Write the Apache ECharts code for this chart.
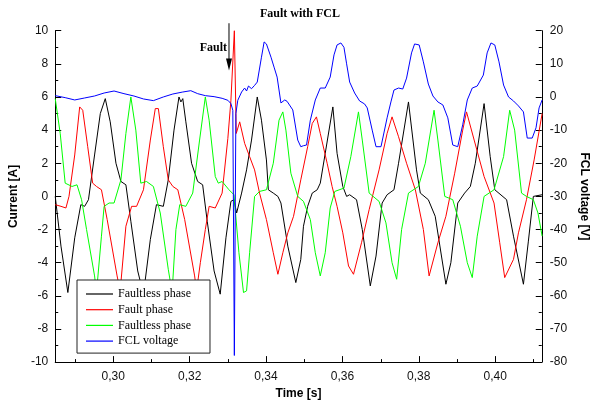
<!DOCTYPE html>
<html><head><meta charset="utf-8">
<script src="https://cdn.jsdelivr.net/npm/echarts@6/dist/echarts.min.js"></script>
<style>html,body{margin:0;padding:0;background:#fff}#c{width:598px;height:405px}</style>
</head><body><div id="c"></div>
<script>
// ---- data ----
const titleText = 'Fault with FCL';
const seriesNames = ['Faultless phase', 'Fault phase', 'Faultless phase ', 'FCL voltage'];
const xMajorTicks = [0.30, 0.32, 0.34, 0.36, 0.38, 0.40];
const xMinorTicks = [0.29, 0.31, 0.33, 0.35, 0.37, 0.39, 0.41];

const blackT = [0.2848,0.2863,0.2881,0.2899,0.2915,0.2925,0.2935,0.2951,0.2966,0.2979,0.2992,0.3007,0.3020,0.3033,0.3046,0.3064,0.3079,0.3097,0.3113,0.3131,0.3144,0.3159,0.3172,0.3177,0.3182,0.3190,0.3205,0.3221,0.3234,0.3246,0.3264,0.3280,0.3295,0.3308,0.3316,0.3323,0.3336,0.3349,0.3362,0.3377,0.3388,0.3401,0.3406,0.3419,0.3431,0.3439,0.3457,0.3478,0.3491,0.3498,0.3509,0.3521,0.3534,0.3542,0.3555,0.3575,0.3586,0.3601,0.3611,0.3619,0.3637,0.3652,0.3673,0.3688,0.3704,0.3717,0.3735,0.3747,0.3773,0.3794,0.3804,0.3825,0.3843,0.3871,0.3884,0.3902,0.3920,0.3935,0.3948,0.3971,0.3987,0.3999,0.4030,0.4048,0.4074,0.4087,0.4100,0.4123];
const blackI = [0.0,-3.0,-5.8,-2.5,-0.5,-0.6,-0.2,2.5,5.0,5.9,4.5,2.0,0.9,0.7,-1.5,-4.5,-5.9,-2.6,-0.5,-0.6,1.0,4.0,6.0,5.7,5.9,4.5,2.0,0.9,0.7,-1.5,-4.5,-5.9,-2.5,-0.3,-0.2,-1.0,0.2,1.6,3.4,6.0,4.6,2.2,0.4,0.2,0.0,-0.4,-3.0,-5.2,-3.8,-1.8,-0.6,0.2,0.4,0.8,2.6,5.4,2.6,0.6,0.0,0.1,-0.2,-2.0,-5.4,-3.6,-0.4,0.1,0.4,2.0,5.7,1.6,0.2,-0.2,-1.2,-5.3,-4.0,-0.4,0.2,0.6,2.0,5.6,2.4,0.4,-0.2,-2.4,-5.3,-2.7,0.0,0.1];

const redT = [0.2848,0.2863,0.2876,0.2884,0.2899,0.2912,0.2920,0.2933,0.2946,0.2956,0.2969,0.2984,0.3010,0.3018,0.3033,0.3048,0.3061,0.3079,0.3097,0.3110,0.3118,0.3131,0.3144,0.3156,0.3169,0.3187,0.3213,0.3218,0.3228,0.3241,0.3251,0.3267,0.3285,0.3300,0.3308,0.3317,0.3322,0.3331,0.3344,0.3357,0.3370,0.3383,0.3401,0.3419,0.3431,0.3444,0.3457,0.3472,0.3491,0.3509,0.3521,0.3532,0.3542,0.3560,0.3573,0.3586,0.3601,0.3616,0.3629,0.3650,0.3670,0.3696,0.3717,0.3730,0.3747,0.3768,0.3791,0.3812,0.3827,0.3850,0.3871,0.3894,0.3915,0.3925,0.3945,0.3971,0.3997,0.4012,0.4025,0.4048,0.4061,0.4082,0.4102,0.4123];
const redI = [-0.5,-0.6,-0.7,0.0,2.5,5.4,5.2,3.0,0.8,0.6,0.4,-1.4,-4.8,-5.7,-1.8,-0.6,-0.6,0.4,3.4,5.3,5.3,3.0,1.0,0.6,0.4,-1.4,-4.8,-5.7,-4.0,-2.0,-0.6,-0.7,0.2,3.5,5.8,10.0,3.8,4.5,3.2,2.4,1.6,0.2,-1.4,-3.4,-4.7,-3.4,-2.2,-1.2,1.0,3.0,4.4,4.8,3.8,2.0,0.6,-0.6,-2.2,-4.2,-4.7,-2.8,-0.8,1.6,3.8,4.8,3.6,2.0,0.4,-2.0,-4.8,-2.8,-1.2,1.4,4.0,5.1,3.4,1.2,-0.4,-2.8,-4.9,-3.8,-2.2,-0.2,2.2,5.0];

const greenT = [0.2848,0.2861,0.2874,0.2892,0.2905,0.2917,0.2930,0.2951,0.2956,0.2969,0.2976,0.2989,0.3002,0.3020,0.3033,0.3046,0.3059,0.3072,0.3087,0.3105,0.3123,0.3144,0.3154,0.3164,0.3174,0.3190,0.3208,0.3226,0.3241,0.3251,0.3267,0.3275,0.3285,0.3290,0.3303,0.3316,0.3329,0.3341,0.3349,0.3357,0.3370,0.3383,0.3401,0.3419,0.3434,0.3444,0.3452,0.3465,0.3483,0.3498,0.3516,0.3529,0.3542,0.3555,0.3568,0.3580,0.3604,0.3622,0.3642,0.3652,0.3670,0.3696,0.3714,0.3730,0.3742,0.3755,0.3773,0.3799,0.3817,0.3840,0.3850,0.3868,0.3889,0.3909,0.3927,0.3940,0.3953,0.3971,0.3997,0.4022,0.4038,0.4051,0.4069,0.4082,0.4100,0.4112,0.4123];
const greenI = [5.9,3.8,0.8,0.6,0.7,-0.2,-2.0,-4.8,-5.8,-2.4,-0.6,-0.4,-0.4,1.0,3.8,6.0,4.0,0.8,0.9,0.6,-1.0,-4.4,-5.8,-2.0,-0.5,-0.6,0.2,3.4,6.0,4.6,1.2,0.8,0.9,0.8,0.4,0.1,-3.4,-5.8,-5.7,-3.4,0.0,0.3,0.4,2.0,4.6,5.1,4.0,1.4,0.0,-0.3,-1.4,-3.4,-4.8,-3.4,-0.7,0.3,0.5,2.4,5.1,3.4,0.2,-0.3,-1.6,-4.0,-5.0,-2.0,0.2,0.6,2.0,5.2,3.4,0.0,-0.2,-1.8,-4.0,-4.9,-2.4,0.0,0.4,2.4,5.2,4.0,0.2,0.0,-0.2,-1.0,-2.4];

const blueT = [0.2848,0.2874,0.2899,0.2925,0.2951,0.2976,0.3002,0.3028,0.3054,0.3079,0.3105,0.3131,0.3156,0.3182,0.3203,0.3221,0.3241,0.3264,0.3285,0.3300,0.3308,0.3313,0.3317,0.3321,0.3326,0.3336,0.3344,0.3349,0.3354,0.3362,0.3370,0.3377,0.3388,0.3395,0.3401,0.3406,0.3413,0.3421,0.3429,0.3439,0.3449,0.3455,0.3460,0.3470,0.3483,0.3491,0.3498,0.3506,0.3516,0.3529,0.3542,0.3555,0.3568,0.3578,0.3586,0.3591,0.3596,0.3604,0.3611,0.3619,0.3632,0.3645,0.3658,0.3665,0.3678,0.3688,0.3701,0.3717,0.3727,0.3735,0.3747,0.3758,0.3768,0.3781,0.3789,0.3794,0.3801,0.3812,0.3825,0.3837,0.3850,0.3863,0.3876,0.3889,0.3902,0.3915,0.3927,0.3940,0.3953,0.3969,0.3979,0.3989,0.3999,0.4010,0.4022,0.4035,0.4048,0.4061,0.4074,0.4084,0.4097,0.4107,0.4115,0.4123];
const blueV = [0.4,-0.2,-0.9,-0.3,0.3,1.2,1.8,1.0,0.3,-0.6,-1.1,0.0,0.9,1.5,1.9,1.0,0.4,0.1,-0.4,-1.0,-2.0,-4.0,-78,-5.0,-1.0,1.5,2.7,1.8,3.3,2.5,3.5,4.5,12.0,16.6,16.0,16.4,12.0,9.0,6.0,-1.8,-0.9,-1.3,-1.0,-3.9,-13,-15,-14.7,-14.5,-7,-0.9,2.7,2.7,6.0,12.7,15.7,16.3,16.3,15.0,10.0,4.5,1.2,-1.2,-2.1,-3.3,-10,-15,-15,-6.3,-1.5,2.1,2.7,2.4,5.7,13.3,16.0,16.5,15.7,10.6,3.9,0.3,-1.5,-2.4,-6.3,-14.5,-15,-8.4,-0.9,2.7,3.3,6.6,13.3,16.3,15.7,10.6,3.6,0.0,-1.2,-2.7,-4.5,-12.4,-12.4,-9.3,-3.3,-0.9];

// annotation (data space)
const faultTime = 0.3303, faultArrowTop = 10.45, faultArrowBottom = 7.6;
const faultLabelTime = 0.3298, faultLabelValue = 8.96;

const pair = (ts, vs) => ts.map((t, i) => [t, vs[i]]);
const chart = echarts.init(document.getElementById('c'), null, {renderer: 'canvas'});
const axisTxt = {color: '#111', fontFamily: 'Liberation Sans, Arial', fontSize: 12};
const nameTxt = {color: '#000', fontFamily: 'Liberation Sans, Arial', fontSize: 12, fontWeight: 'bold'};
const fmtX = v => v.toFixed(2).replace('.', ',');
const xMin = 0.2848, xMax = 0.4122, yMin = -10, yMax = 10;
const colors = ['#000000', '#ff0000', '#00ff00', '#0000ff'];

chart.setOption({
  animation: false,
  backgroundColor: '#fff',
  title: {text: titleText, left: 255, top: 3,
    textStyle: {fontFamily: 'Liberation Serif, Times New Roman', fontSize: 12, fontWeight: 'bold', color: '#000'}},
  grid: {left: 50, right: 52.3, top: 30.7, bottom: 42.7},
  legend: {
    orient: 'vertical', left: 77, top: 280,
    backgroundColor: '#fff', borderColor: '#222', borderWidth: 1,
    padding: [7, 16, 5, 9], itemWidth: 27, itemHeight: 1.2, itemGap: 1.7, icon: 'rect',
    textStyle: {fontFamily: 'Liberation Serif, Times New Roman', fontSize: 12, color: '#000', lineHeight: 14},
    data: seriesNames.map(n => ({name: n})), z: 10
  },
  xAxis: {
    type: 'value', min: xMin, max: xMax, position: 'bottom',
    name: 'Time [s]', nameLocation: 'middle', nameGap: 19, nameTextStyle: nameTxt,
    axisLine: {onZero: false, lineStyle: {color: '#000', width: 1}},
    axisTick: {inside: true, length: 6, customValues: xMajorTicks, lineStyle: {color: '#000'}},
    axisLabel: Object.assign({customValues: xMajorTicks, formatter: fmtX, margin: 9}, axisTxt),
    minorTick: {show: false},
    splitLine: {show: false}
  },
  yAxis: [{
    type: 'value', min: yMin, max: yMax, interval: 2, position: 'left',
    name: 'Current [A]', nameLocation: 'middle', nameGap: 29, nameRotate: 90, nameTextStyle: nameTxt,
    axisLine: {show: true, onZero: false, lineStyle: {color: '#000', width: 1}},
    axisTick: {show: true, inside: true, length: 6, lineStyle: {color: '#000'}},
    minorTick: {show: true, splitNumber: 2, length: 3, lineStyle: {color: '#000'}},
    axisLabel: Object.assign({margin: 7}, axisTxt),
    splitLine: {show: false}
  }, {
    type: 'value', min: -80, max: 20, interval: 10, position: 'right',
    name: 'FCL voltage [V]', nameLocation: 'middle', nameGap: 36, nameRotate: -90, nameTextStyle: nameTxt,
    axisLine: {show: true, onZero: false, lineStyle: {color: '#000', width: 1}},
    axisTick: {show: true, inside: true, length: 6, lineStyle: {color: '#000'}},
    minorTick: {show: true, splitNumber: 2, length: 3, lineStyle: {color: '#000'}},
    axisLabel: Object.assign({margin: 8}, axisTxt),
    splitLine: {show: false}
  }],
  series: [
    {name: seriesNames[0], type: 'line', data: pair(blackT, blackI), symbol: 'none', lineStyle: {color: colors[0], width: 1}, itemStyle: {color: colors[0]}},
    {name: seriesNames[1], type: 'line', data: pair(redT, redI), symbol: 'none', lineStyle: {color: colors[1], width: 1}, itemStyle: {color: colors[1]}},
    {name: seriesNames[2], type: 'line', data: pair(greenT, greenI), symbol: 'none', lineStyle: {color: colors[2], width: 1}, itemStyle: {color: colors[2]}},
    {name: seriesNames[3], type: 'line', yAxisIndex: 1, data: pair(blueT, blueV), symbol: 'none', lineStyle: {color: colors[3], width: 1}, itemStyle: {color: colors[3]}}
  ]
});

const px = (x, y) => chart.convertToPixel({xAxisIndex: 0, yAxisIndex: 0}, [x, y]);
const pTop = px(faultTime, faultArrowTop);
const pBot = px(faultTime, faultArrowBottom);
const pLab = px(faultLabelTime, faultLabelValue);
const minorTickGraphics = xMinorTicks.map(v => {
  const p = px(v, yMin);
  const xr = Math.round(p[0]) + 0.5;
  return {type: 'line', shape: {x1: xr, y1: p[1], x2: xr, y2: p[1] - 3}, style: {stroke: '#000', lineWidth: 1}, z: 20};
});
chart.setOption({
  graphic: minorTickGraphics.concat([
    {type: 'line', shape: {x1: pTop[0], y1: pTop[1], x2: pBot[0], y2: pBot[1] - 8}, style: {stroke: '#000', lineWidth: 1}, z: 20},
    {type: 'polygon', shape: {points: [[pBot[0] - 3, pBot[1] - 12], [pBot[0] + 3, pBot[1] - 12], [pBot[0], pBot[1]]]}, style: {fill: '#000'}, z: 20},
    {type: 'text', x: pLab[0], y: pLab[1], style: {text: 'Fault', align: 'right', verticalAlign: 'middle',
      font: 'bold 12px "Liberation Serif", "Times New Roman"', fill: '#000'}, z: 20}
  ])
});
</script></body></html>
